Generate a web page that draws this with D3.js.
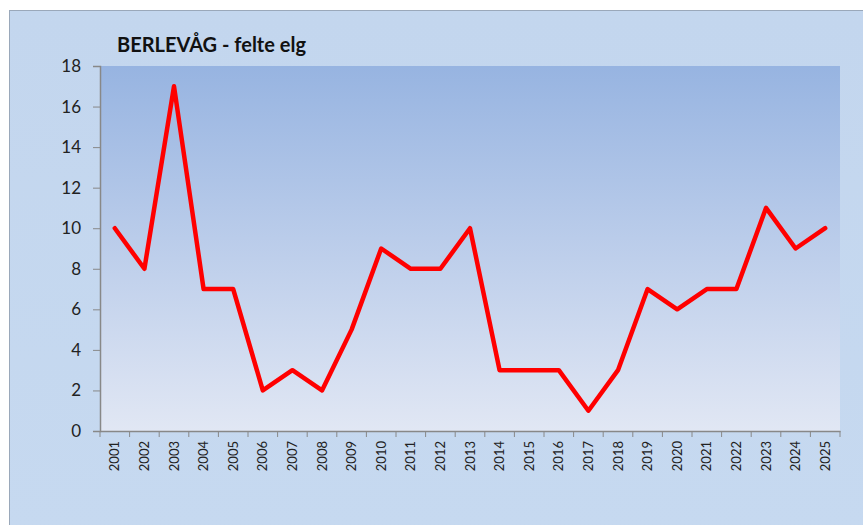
<!DOCTYPE html>
<html><head><meta charset="utf-8">
<script src="https://cdn.jsdelivr.net/npm/d3@7"></script>
<style>body{margin:0;background:#fff}svg{display:block}</style>
</head><body>
<script>
const years = ["2001","2002","2003","2004","2005","2006","2007","2008","2009","2010","2011","2012","2013","2014","2015","2016","2017","2018","2019","2020","2021","2022","2023","2024","2025"];
const felteElg = [10,8,17,7,7,2,3,2,5,9,8,8,10,3,3,3,1,3,7,6,7,7,11,9,10];
const yTicks = [0,2,4,6,8,10,12,14,16,18];
const title = "BERLEVÅG - felte elg";

const W = 863, H = 525;
const svg = d3.select("body").append("svg").attr("width", W).attr("height", H);
const defs = svg.append("defs");
const og = defs.append("linearGradient").attr("id","outer").attr("x1",0).attr("y1",0).attr("x2",0).attr("y2",1);
og.append("stop").attr("offset","0%").attr("stop-color","#c3d6ee");
og.append("stop").attr("offset","100%").attr("stop-color","#c6d9f0");
const pg = defs.append("linearGradient").attr("id","plot").attr("x1",0).attr("y1",0).attr("x2",0).attr("y2",1);
pg.append("stop").attr("offset","0%").attr("stop-color","#97b4e1");
pg.append("stop").attr("offset","100%").attr("stop-color","#e1e7f4");

svg.append("rect").attr("x",9.5).attr("y",10.5).attr("width",W).attr("height",H)
  .attr("fill","url(#outer)").attr("stroke","#9aa8ba").attr("stroke-width",1);

const m = {l:100, r:840, t:66, b:431};
const x = d3.scaleBand().domain(years).range([m.l, m.r]);
const y = d3.scaleLinear().domain([0,18]).range([m.b, m.t]);

svg.append("rect").attr("x",m.l).attr("y",m.t).attr("width",m.r-m.l).attr("height",m.b-m.t).attr("fill","url(#plot)");

const yAxis = svg.append("g").attr("transform",`translate(${m.l},0)`)
  .call(d3.axisLeft(y).tickValues(yTicks).tickSize(7).tickPadding(12));
yAxis.selectAll("text").attr("font-family","Lato, sans-serif").attr("font-size",17).attr("fill","#222");

const xAxis = svg.append("g").attr("transform",`translate(0,${m.b})`)
  .call(d3.axisBottom(x).tickSize(0).tickPadding(0));
xAxis.selectAll("text").attr("font-family","Lato, sans-serif").attr("font-size",13).attr("fill","#222")
  .attr("transform","rotate(-90)").attr("text-anchor","end").attr("dy","0.35em").attr("x",-10).attr("y",0);
// band boundary ticks
xAxis.selectAll(".bt").data(years.concat(["end"])).enter().append("line")
  .attr("x1",(d,i)=> m.l + i*x.bandwidth()).attr("x2",(d,i)=> m.l + i*x.bandwidth())
  .attr("y1",0).attr("y2",6).attr("stroke","#888");
svg.selectAll(".domain").attr("stroke","#888").attr("stroke-width",1.5);
svg.selectAll(".tick line").attr("stroke","#888");

const line = d3.line().x((d,i)=> x(years[i]) + x.bandwidth()/2).y(d=> y(d));
svg.append("path").datum(felteElg).attr("d",line).attr("fill","none")
  .attr("stroke","#ff0000").attr("stroke-width",4.5).attr("stroke-linejoin","round").attr("stroke-linecap","round");

svg.append("text").attr("x",117).attr("y",52).text(title)
  .attr("font-family","Lato, sans-serif").attr("font-weight","bold").attr("font-size",20).attr("fill","#111");
</script>
</body></html>
